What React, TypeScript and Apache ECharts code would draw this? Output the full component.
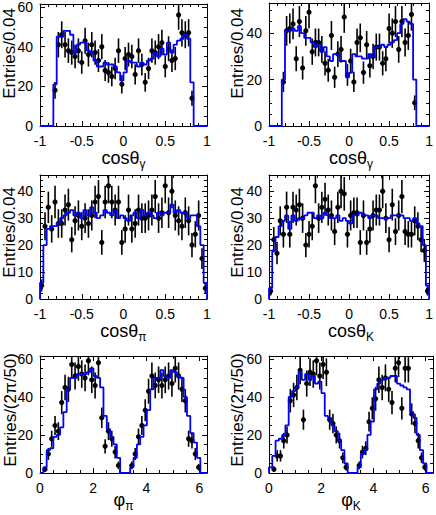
import React, { useEffect, useRef } from 'react';
import * as echarts from 'echarts';

// ---- binning ----
const NBINS = 50;
const COS_MIN = -1;
const COS_MAX = 1;
const PHI_MIN = 0;
const PHI_MAX = 2 * Math.PI;

// ---- tick labels ----
const cosTickLabels = ['-1', '-0.5', '0', '0.5', '1'];
const phiTickLabels = ['0', '2', '4', '6'];

// ---- panel 1: cos(theta_gamma), left ----
const cosGammaHistL = [0, 0, 0, 0, 21, 45, 45, 48, 48, 46, 37, 41, 42, 42, 38, 37, 33, 30, 30, 32, 31, 31, 30, 27, 23, 27, 33, 32, 32, 30, 32, 31, 33, 34, 37, 35, 39, 36, 42, 37, 41, 43, 44, 46, 44, 22, 0, 0, 0, 0];
const cosGammaDataL = [null, null, null, null, 18, 41, 46, 41, 38, 37, 35, 38, 32, 43, 36, 41, 37, 33, 40, 28, 27, 25, 29, 38, 21, 34, 36, 35, 26, 38, 31, 22, 29, 38, 37, 40, 42, 30, 39, 33, 34, 56, 47, 46, 47, 14, null, null, null, null];

// ---- panel 2: cos(theta_gamma), right ----
const cosGammaHistR = [0, 0, 0, 0, 20, 41, 41, 42, 41, 43, 40, 38, 38, 36, 34, 35, 32, 34, 30, 28, 31, 31, 28, 28, 21, 23, 31, 30, 30, 29, 29, 31, 30, 34, 34, 35, 34, 35, 36, 37, 40, 44, 46, 45, 44, 20, 0, 0, 0, 0];
const cosGammaDataR = [null, null, null, null, 19, 41, 42, 44, 29, 45, 25, 41, 49, 32, 36, 36, 33, 27, 24, 39, 21, 31, 33, 47, 22, 28, 19, 36, 38, 23, 35, 26, 30, 34, 34, 27, 29, 42, 40, 45, 33, 45, 36, 39, 48, 10, null, null, null, null];

// ---- panel 3: cos(theta_pi) ----
const cosPiHist = [6, 20, 26, 27, 27, 28, 30, 31, 32, 33, 31, 32, 30, 33, 31, 34, 32, 30, 31, 33, 32, 31, 33, 30, 31, 30, 29, 31, 32, 30, 33, 31, 32, 31, 30, 32, 31, 32, 32, 35, 32, 33, 32, 32, 30, 31, 31, 27, 20, 6];
const cosPiData = [5, 27, 34, 26, 36, 28, 28, 33, 35, 22, 29, 31, 27, 30, 28, 31, 36, 38, 21, 36, 42, 36, 33, 36, 21, 26, 33, 26, 28, 33, 30, 30, 31, 33, 38, 30, 32, 42, 32, 40, 31, 29, 27, 32, 29, 20, 24, 31, 15, 4];

// ---- panel 4: cos(theta_K) ----
const cosKHist = [4, 18, 23, 27, 29, 31, 26, 31, 29, 30, 30, 31, 32, 32, 30, 31, 30, 32, 31, 30, 30, 31, 29, 30, 29, 28, 31, 31, 32, 31, 31, 30, 31, 31, 30, 30, 30, 30, 31, 31, 31, 31, 30, 30, 29, 30, 28, 27, 20, 5];
const cosKData = [3, 22, 17, 29, 24, 34, 24, 34, 33, 35, 30, 20, 24, 27, 42, 30, 34, 37, 33, 31, 25, 34, 40, 39, 24, 31, 32, 32, 21, 31, 21, 26, 31, 33, 33, 40, 30, 22, 35, 25, 31, 38, 25, 24, 24, 29, 27, 22, 18, 3];

// ---- panel 5: phi_pi ----
const phiPiHist = [0, 3, 12, 13, 19, 20, 24, 32, 44, 50, 50, 52, 52, 52, 53, 55, 51, 50, 45, 30, 23, 19, 15, 8, 0, 0, 0, 3, 8, 15, 19, 25, 33, 44, 50, 50, 54, 51, 50, 54, 53, 51, 50, 40, 30, 21, 16, 8, 0, 0];
const phiPiData = [null, 2, 10, 18, 25, 22, 37, 45, 44, 57, 51, 56, 52, 50, 59, 49, 46, 58, 29, 14, 22, 18, 11, 4, null, null, null, 4, 10, 19, 25, 33, 43, 51, 46, 49, 46, 49, 51, 47, 55, 51, 44, 38, 18, 17, 10, 3, null, null];

// ---- panel 6: phi_K ----
const phiKHist = [3, 9, 17, 18, 20, 25, 40, 43, 45, 53, 49, 52, 49, 51, 47, 48, 42, 30, 29, 25, 22, 17, 12, 5, 0, 0, 0, 3, 10, 12, 20, 27, 44, 47, 49, 50, 50, 51, 51, 47, 46, 45, 44, 32, 29, 20, 12, 5, 0, 0];
const phiKData = [null, 2, 9, 9, 17, 20, 38, 41, 45, 54, 28, 47, 53, 52, 59, 51, 57, 53, 28, 26, 20, 17, 8, 3, null, null, null, 4, 11, 13, 27, 34, 39, 49, 45, 50, 44, 37, 55, 58, 34, 55, 55, 31, 26, 17, 8, 3, null, null];

const FONT = '"Liberation Sans", Arial, Helvetica, sans-serif';
const BLUE = '#0000ff';

type Panel = {
  hist: number[];
  data: (number | null)[];
  xmin: number;
  xmax: number;
  xInterval: number;
  xMinor: number;
  xLabels: string[];
  yMax: number;
  yInterval: number;
  yMinor: number;
  grid: { left: number; top: number; width: number; height: number };
  xTitle: [string, string];
  yTitle: string;
  yTitleX: number;
  yTitleTop: number;
  xTitleY: number;
};

const panels: Panel[] = [
  { hist: cosGammaHistL, data: cosGammaDataL, xmin: COS_MIN, xmax: COS_MAX, xInterval: 0.5, xMinor: 5, xLabels: cosTickLabels, yMax: 61.5, yInterval: 20, yMinor: 4, grid: { left: 40, top: 3, width: 167, height: 123 }, xTitle: ['cosθ', 'γ'], yTitle: 'Entries/0.04', yTitleX: 9, yTitleTop: 8, xTitleY: 158 },
  { hist: cosGammaHistR, data: cosGammaDataR, xmin: COS_MIN, xmax: COS_MAX, xInterval: 0.5, xMinor: 5, xLabels: cosTickLabels, yMax: 53, yInterval: 20, yMinor: 4, grid: { left: 269, top: 3, width: 164, height: 123 }, xTitle: ['cosθ', 'γ'], yTitle: 'Entries/0.04', yTitleX: 237, yTitleTop: 8, xTitleY: 158 },
  { hist: cosPiHist, data: cosPiData, xmin: COS_MIN, xmax: COS_MAX, xInterval: 0.5, xMinor: 5, xLabels: cosTickLabels, yMax: 46, yInterval: 10, yMinor: 5, grid: { left: 40, top: 175, width: 167, height: 124 }, xTitle: ['cosθ', 'π'], yTitle: 'Entries/0.04', yTitleX: 9, yTitleTop: 187, xTitleY: 331 },
  { hist: cosKHist, data: cosKData, xmin: COS_MIN, xmax: COS_MAX, xInterval: 0.5, xMinor: 5, xLabels: cosTickLabels, yMax: 46, yInterval: 10, yMinor: 5, grid: { left: 269, top: 175, width: 164, height: 124 }, xTitle: ['cosθ', 'K'], yTitle: 'Entries/0.04', yTitleX: 237, yTitleTop: 187, xTitleY: 331 },
  { hist: phiPiHist, data: phiPiData, xmin: PHI_MIN, xmax: PHI_MAX, xInterval: 2, xMinor: 4, xLabels: phiTickLabels, yMax: 61.5, yInterval: 20, yMinor: 4, grid: { left: 40, top: 356, width: 167, height: 117 }, xTitle: ['φ', 'π'], yTitle: 'Entries/(2π/50)', yTitleX: 10, yTitleTop: 353, xTitleY: 500 },
  { hist: phiKHist, data: phiKData, xmin: PHI_MIN, xmax: PHI_MAX, xInterval: 2, xMinor: 4, xLabels: phiTickLabels, yMax: 61.5, yInterval: 20, yMinor: 4, grid: { left: 269, top: 356, width: 164, height: 117 }, xTitle: ['φ', 'K'], yTitle: 'Entries/(2π/50)', yTitleX: 237, yTitleTop: 353, xTitleY: 500 },
];

function isMultiple(v: number, step: number) {
  const r = v / step;
  return Math.abs(r - Math.round(r)) < 1e-6;
}

function measure(text: string, size: number) {
  try {
    const c = document.createElement('canvas').getContext('2d');
    if (c) {
      c.font = `${size}px "Liberation Sans", Arial, sans-serif`;
      return c.measureText(text).width;
    }
  } catch (e) {}
  return text.length * size * 0.55;
}

function buildOption() {
  const grids: any[] = [];
  const xAxes: any[] = [];
  const yAxes: any[] = [];
  const series: any[] = [];
  const graphics: any[] = [];

  panels.forEach((p, k) => {
    grids.push({ left: p.grid.left, top: p.grid.top, width: p.grid.width, height: p.grid.height, containLabel: false });
    const tick = { show: true, inside: true, length: 5, lineStyle: { color: '#000', width: 1 } };
    const minor = (n: number) => ({ show: true, splitNumber: n, length: 3, lineStyle: { color: '#000', width: 1 } });
    const line = { show: true, onZero: false, lineStyle: { color: '#000', width: 1 } };
    const xBase = {
      type: 'value', gridIndex: k, min: p.xmin, max: p.xmax, interval: p.xInterval,
      axisLine: line, axisTick: tick, minorTick: minor(p.xMinor),
      splitLine: { show: false }, minorSplitLine: { show: false },
    };
    xAxes.push({
      ...xBase, position: 'bottom',
      axisLabel: {
        show: true, color: '#000', fontSize: 14, fontFamily: FONT, margin: 8,
        formatter: (v: number) => {
          if (!isMultiple(v, p.xInterval)) return '';
          const idx = Math.round((v - p.xmin) / p.xInterval);
          return p.xLabels[idx] ?? '';
        },
      },
    });
    xAxes.push({ ...xBase, position: 'top', axisLabel: { show: false } });
    const yBase = {
      type: 'value', gridIndex: k, min: 0, max: p.yMax, interval: p.yInterval,
      axisLine: line, axisTick: tick, minorTick: minor(p.yMinor),
      splitLine: { show: false }, minorSplitLine: { show: false },
    };
    yAxes.push({
      ...yBase, position: 'left',
      axisLabel: {
        show: true, color: '#000', fontSize: 14, fontFamily: FONT, margin: 7,
        formatter: (v: number) => (isMultiple(v, p.yInterval) ? String(v) : ''),
      },
    });
    yAxes.push({ ...yBase, position: 'right', axisLabel: { show: false } });

    const w = (p.xmax - p.xmin) / NBINS;
    const pts = p.data
      .map((v, i) => (v == null ? null : [p.xmin + (i + 0.5) * w, v, Math.sqrt(v)]))
      .filter((d) => d !== null);
    const yMax = p.yMax;
    series.push({
      type: 'custom',
      xAxisIndex: 2 * k,
      yAxisIndex: 2 * k,
      clip: true,
      z: 3,
      data: pts,
      renderItem: (params: any, api: any) => {
        const x = api.value(0);
        const y = api.value(1);
        const e = api.value(2);
        const c = api.coord([x, y]);
        const lo = api.coord([x, Math.max(0, y - e)]);
        const hi = api.coord([x, Math.min(yMax, y + e)]);
        return {
          type: 'group',
          children: [
            { type: 'line', shape: { x1: c[0], y1: lo[1], x2: c[0], y2: hi[1] }, style: { stroke: '#000', lineWidth: 1.6 } },
            { type: 'circle', shape: { cx: c[0], cy: c[1], r: 2.6 }, style: { fill: '#000', stroke: null } },
          ],
        };
      },
    });

    const steps: number[][] = [[p.xmin, 0]];
    p.hist.forEach((v, i) => steps.push([p.xmin + i * w, v]));
    steps.push([p.xmax, p.hist[p.hist.length - 1]]);
    steps.push([p.xmax, 0]);
    series.push({
      type: 'line',
      xAxisIndex: 2 * k,
      yAxisIndex: 2 * k,
      step: 'end',
      showSymbol: false,
      symbol: 'none',
      z: 4,
      lineStyle: { color: BLUE, width: 1.8 },
      data: steps,
    });

    // titles
    graphics.push({
      type: 'text',
      x: p.yTitleX,
      y: p.yTitleTop,
      rotation: Math.PI / 2,
      style: { text: p.yTitle, fontSize: 17, fontFamily: FONT, fill: '#000', align: 'right', verticalAlign: 'middle' },
    });
    const cx = p.grid.left + p.grid.width / 2;
    const mw = measure(p.xTitle[0], 18);
    const sw = measure(p.xTitle[1], 12);
    const startX = cx - (mw + sw) / 2;
    graphics.push({
      type: 'text', x: startX, y: p.xTitleY,
      style: { text: p.xTitle[0], fontSize: 18, fontFamily: FONT, fill: '#000', align: 'left', verticalAlign: 'middle' },
    });
    graphics.push({
      type: 'text', x: startX + mw, y: p.xTitleY + 6,
      style: { text: p.xTitle[1], fontSize: 12, fontFamily: FONT, fill: '#000', align: 'left', verticalAlign: 'middle' },
    });
  });

  return {
    animation: false,
    backgroundColor: '#fff',
    grid: grids,
    xAxis: xAxes,
    yAxis: yAxes,
    series,
    graphic: graphics,
  };
}

export default function App() {
  const ref = useRef<HTMLDivElement>(null);
  useEffect(() => {
    if (!ref.current) return;
    const chart = echarts.init(ref.current, null, { renderer: 'svg' });
    chart.setOption(buildOption() as any);
    return () => chart.dispose();
  }, []);
  return (
    <div
      ref={ref}
      style={{ position: 'absolute', left: 0, top: 0, width: 436, height: 515, background: '#fff' }}
    />
  );
}
